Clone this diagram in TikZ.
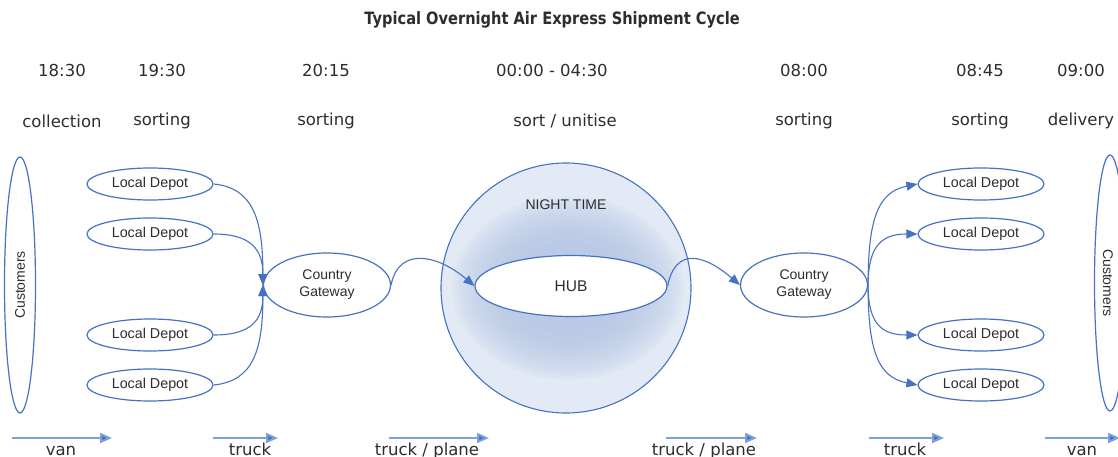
\documentclass[tikz,border=0pt]{standalone}
\usepackage{fontspec}
\setmainfont{Liberation Sans}
\newfontfamily\hdfont{DejaVu Sans}
\newfontfamily\titlefont[FakeStretch=0.86]{DejaVu Sans Bold}
\usetikzlibrary{shapes.geometric,arrows.meta}
\definecolor{lblue}{RGB}{70,114,196}
\definecolor{abl}{RGB}{125,160,215}
\definecolor{circfill}{RGB}{227,233,245}
\definecolor{glow}{RGB}{184,201,230}
\definecolor{txt}{RGB}{45,45,45}
\tikzset{
  oval/.style={ellipse, draw=lblue, line width=1.2pt, fill=white, inner sep=0pt, text=txt, font=\fontsize{14.3}{16}\selectfont},
  depot/.style={oval, minimum width=126pt, minimum height=32pt},
  gway/.style={oval, minimum width=127pt, minimum height=64pt, align=center, font=\fontsize{14}{17}\selectfont},
  cust/.style={oval, minimum width=31pt, minimum height=256pt},
  conn/.style={draw=lblue, line width=1.1pt, -{Triangle[length=11pt,width=9pt]}},
  hd/.style={text=txt, font=\hdfont\fontsize{16.5}{19}\selectfont},
  lab/.style={hd, anchor=base, inner sep=0pt},
  mode/.style={draw=abl, line width=2pt, -{Triangle[length=12pt,width=10pt,fill=lblue]}},
}
\begin{document}
\begin{tikzpicture}[x=1pt,y=-1pt]
\useasboundingbox (0,0) rectangle (1118,457);
% title
\node[text=txt, font=\titlefont\fontsize{17}{19}\selectfont] (title) at (552,20) {Typical Overnight Air Express Shipment Cycle};
% times
\node[hd] (t1) at (62,70) {18:30};
\node[hd] (t2) at (162,70) {19:30};
\node[hd] (t3) at (326,70) {20:15};
\node[hd] (t4) at (552,70) {00:00 - 04:30};
\node[hd] (t5) at (804,70) {08:00};
\node[hd] (t6) at (980,70) {08:45};
\node[hd] (t7) at (1081,70) {09:00};
% activities
\node[hd] (a1) at (62,121) {collection};
\node[hd] (a2) at (162,121) {sorting};
\node[hd] (a3) at (326,121) {sorting};
\node[hd] (a4) at (565,121) {sort / unitise};
\node[hd] (a5) at (804,121) {sorting};
\node[hd] (a6) at (980,121) {sorting};
\node[hd] (a7) at (1081,121) {delivery};
% night time circle
\begin{scope}
  \clip (566,288) circle[radius=125pt];
  \fill[circfill] (566,288) circle[radius=125pt];
  \foreach \k in {0,...,19} {
    \pgfmathsetmacro\rx{116-56*\k/19}
    \pgfmathsetmacro\ry{92-46*\k/19}
    \fill[glow, opacity=0.085] (568,288) ellipse[x radius=\rx pt, y radius=\ry pt];
  }
\end{scope}
\draw[lblue, line width=1.1pt] (566,288) circle[radius=125pt];
\node[text=txt, font=\fontsize{14}{16}\selectfont] (night) at (566,205) {NIGHT TIME};
% nodes
\node[cust] (custL) at (20,285) {};
\node[text=txt, rotate=90, font=\fontsize{14}{16}\selectfont] (custLt) at (custL) {Customers};
\node[cust] (custR) at (1110,283) {};
\node[text=txt, rotate=-90, font=\fontsize{14}{16}\selectfont] (custRt) at (1108,283) {Customers};
\node[depot] (ld1) at (150,184) {Local Depot};
\node[depot] (ld2) at (150,234) {Local Depot};
\node[depot] (ld3) at (150,335) {Local Depot};
\node[depot] (ld4) at (150,385) {Local Depot};
\node[depot] (rd1) at (981,184) {Local Depot};
\node[depot] (rd2) at (981,234) {Local Depot};
\node[depot] (rd3) at (981,335) {Local Depot};
\node[depot] (rd4) at (981,385) {Local Depot};
\node[gway] (gwL) at (327,285) {Country\\Gateway};
\node[gway] (gwR) at (804,285) {Country\\Gateway};
% connectors
\draw[conn] (ld1.east) .. controls +(40,4) and +(0,-65) .. (gwL.west);
\draw[conn] (ld2.east) .. controls +(38,0) and +(0,-35) .. (gwL.west);
\draw[conn] (ld3.east) .. controls +(38,0) and +(0,35) .. (gwL.west);
\draw[conn] (ld4.east) .. controls +(40,-4) and +(0,65) .. (gwL.west);
\draw[conn] (gwR.east) .. controls +(0,-65) and +(-40,8) .. (rd1.west);
\draw[conn] (gwR.east) .. controls +(0,-40) and +(-35,0) .. (rd2.west);
\draw[conn] (gwR.east) .. controls +(0,40) and +(-35,0) .. (rd3.west);
\draw[conn] (gwR.east) .. controls +(0,65) and +(-40,-8) .. (rd4.west);
\node[oval, minimum width=192pt, minimum height=61pt, font=\fontsize{15.5}{18}\selectfont] (hub) at (571,286) {HUB};
\draw[conn] (gwL.east) .. controls +(8,-40) and +(-35,-30) .. (hub.west);
\draw[conn] (hub.east) .. controls +(8,-40) and +(-35,-30) .. (gwR.west);
% transport modes
\coordinate (m1a) at (12,438); \coordinate (m1b) at (112,438);
\coordinate (m2a) at (213,438); \coordinate (m2b) at (278,438);
\coordinate (m3a) at (389,438); \coordinate (m3b) at (489,438);
\coordinate (m4a) at (666,438); \coordinate (m4b) at (757,438);
\coordinate (m5a) at (869,438); \coordinate (m5b) at (944,438);
\coordinate (m6a) at (1045,438); \coordinate (m6b) at (1120,438);
\draw[mode] (m1a) -- (m1b);
\draw[mode] (m2a) -- (m2b);
\draw[mode] (m3a) -- (m3b);
\draw[mode] (m4a) -- (m4b);
\draw[mode] (m5a) -- (m5b);
\draw[mode] (m6a) -- (m6b);
\node[lab] (l1) at (61,455) {van};
\node[lab] (l2) at (250,455) {truck};
\node[lab] (l3) at (427,455) {truck / plane};
\node[lab] (l4) at (704,455) {truck / plane};
\node[lab] (l5) at (905,455) {truck};
\node[lab] (l6) at (1082,455) {van};
\end{tikzpicture}
\end{document}
